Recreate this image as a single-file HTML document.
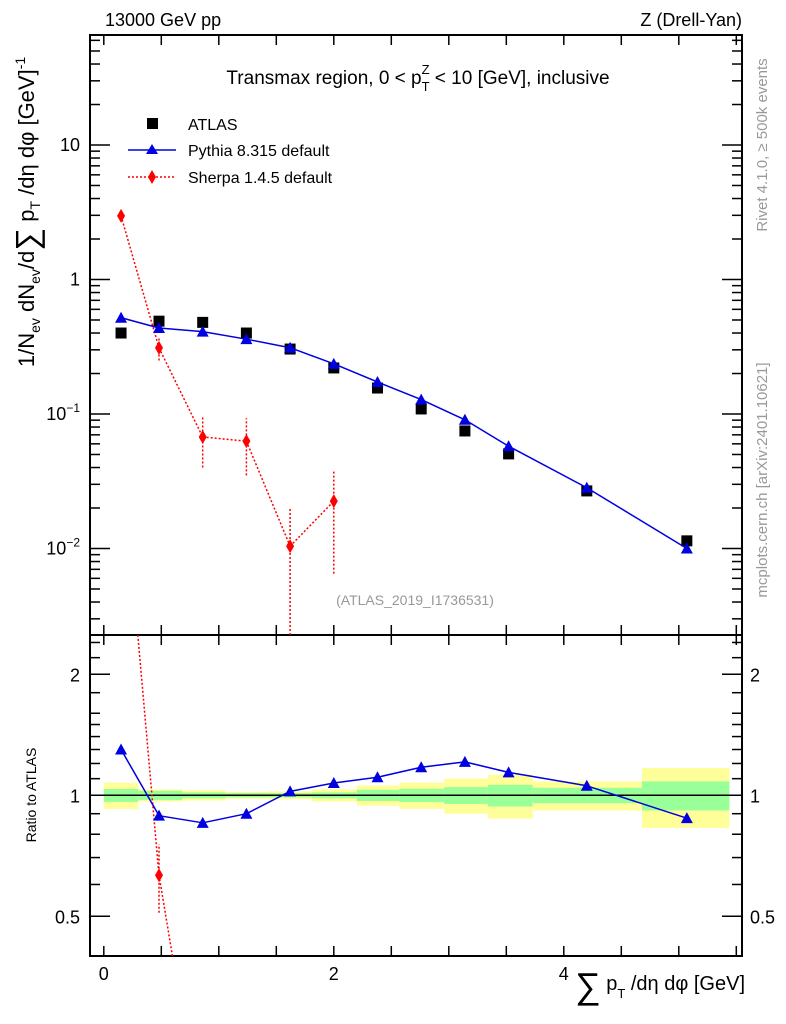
<!DOCTYPE html>
<html><head><meta charset="utf-8"><style>
html,body{margin:0;background:#fff;overflow:hidden;width:786px;height:1024px;}
svg{display:block;font-family:"Liberation Sans",sans-serif;overflow:hidden;}
</style></head><body>
<svg id="c" width="786" height="1024" viewBox="0 0 786 1024" xmlns="http://www.w3.org/2000/svg">
<defs>
<clipPath id="cpT"><rect x="90" y="35" width="652" height="600"/></clipPath>
<clipPath id="cpR"><rect x="90" y="635" width="652" height="321"/></clipPath>
</defs>
<g id="bands" clip-path="url(#cpR)"></g>
<g id="grid"></g>
<g id="marks"></g>
<text x="105" y="26" font-size="18">13000 GeV pp</text>
<text x="742" y="26" font-size="18" text-anchor="end">Z (Drell-Yan)</text>
<text x="418" y="84" font-size="19" text-anchor="middle">Transmax region, 0 &lt; p<tspan font-size="13" dy="7">T</tspan><tspan font-size="13" dx="-8" dy="-17">Z</tspan><tspan dy="10"> &lt; 10 [GeV], inclusive</tspan></text>
<g>
<rect x="147" y="118" width="11" height="11" fill="#000"/>
<text x="188" y="130" font-size="16">ATLAS</text>
<line x1="128" y1="150" x2="176" y2="150" stroke="#0000e0" stroke-width="1.5"/>
<polygon points="152,144 158,154 146,154" fill="#0000e0"/>
<text x="188" y="156" font-size="16">Pythia 8.315 default</text>
<line x1="128" y1="177" x2="176" y2="177" stroke="#f00" stroke-width="1.5" stroke-dasharray="2,2"/>
<polygon points="152,170 156,177 152,184 148,177" fill="#f00"/>
<text x="188" y="183" font-size="16">Sherpa 1.4.5 default</text>
</g>
<text x="415" y="605" font-size="14" fill="#999" text-anchor="middle">(ATLAS_2019_I1736531)</text>
<text transform="translate(767,145) rotate(-90)" font-size="15" fill="#999" text-anchor="middle">Rivet 4.1.0, ≥ 500k events</text>
<text transform="translate(767,480) rotate(-90)" font-size="15" fill="#999" text-anchor="middle">mcplots.cern.ch [arXiv:2401.10621]</text>
<text transform="translate(34,212) rotate(-90)" font-size="22" text-anchor="middle">1/N<tspan font-size="14" dy="6">ev</tspan><tspan dy="-6"> dN</tspan><tspan font-size="14" dy="6">ev</tspan><tspan dy="-6">/d</tspan><tspan font-size="32" dy="4">∑</tspan><tspan dy="-4"> p</tspan><tspan font-size="14" dy="6">T</tspan><tspan dy="-6"> /dη dφ  [GeV]</tspan><tspan font-size="14" dy="-9">-1</tspan></text>
<text transform="translate(36,795) rotate(-90)" font-size="14" text-anchor="middle">Ratio to ATLAS</text>
<text x="745" y="990" font-size="20" text-anchor="end"><tspan font-size="36" dy="8">∑</tspan><tspan dy="-8"> p</tspan><tspan font-size="13" dy="8">T</tspan><tspan dy="-8"> /dη dφ [GeV]</tspan></text>
</svg>
<script>
const xVals=[0.15,0.48,0.86,1.24,1.62,2.0,2.38,2.76,3.14,3.52,4.2,5.07];
const atlas=[0.40,0.49,0.48,0.40,0.304,0.22,0.156,0.109,0.0748,0.0505,0.0268,0.0114];
const pythia=[0.52,0.436,0.41,0.36,0.311,0.236,0.173,0.128,0.0906,0.0576,0.0283,0.0100];
const sherpaX=[0.15,0.48,0.86,1.24,1.62,2.0];
const sherpa=[2.97,0.31,0.0675,0.0628,0.0104,0.0225];
const sherpaLo=[2.97,0.25,0.040,0.035,0.0001,0.0065];
const sherpaHi=[2.97,0.37,0.095,0.093,0.020,0.038];
const binEdges=[0,0.3,0.68,1.06,1.43,1.81,2.2,2.57,2.96,3.34,3.73,4.68,5.44];
const statErr=[0.037,0.026,0.017,0.012,0.012,0.017,0.032,0.038,0.048,0.062,0.044,0.083];
const totErr=[0.075,0.035,0.03,0.02,0.023,0.035,0.058,0.075,0.1,0.125,0.083,0.17];
const xTicks=[0,2,4];
const yTicks=[10,1,0.1,0.01];
const yTickLabels=["10","1","10","10"];
const yTickExp=["","","−1","−2"];
const rTicks=[2,1,0.5];

const NS="http://www.w3.org/2000/svg";
const xS=v=>103.8+115*v;
const yT=v=>145+134.5*(1-Math.log10(v));
const yR=v=>795.3-121*Math.log2(v);
function mk(p,tag,at){const e=document.createElementNS(NS,tag);for(const k in at)e.setAttribute(k,at[k]);p.appendChild(e);return e;}
// clip a segment to y range [y0,y1]; returns null if fully outside
function clipSeg(ax,ay,bx,by,y0,y1){
 if((ay<y0&&by<y0)||(ay>y1&&by>y1))return null;
 function cl(px,py,qx,qy){if(py<y0){const t=(y0-py)/(qy-py);return [px+t*(qx-px),y0];}
  if(py>y1){const t=(y1-py)/(qy-py);return [px+t*(qx-px),y1];}return [px,py];}
 const a=cl(ax,ay,bx,by),b=cl(bx,by,ax,ay);return [a[0],a[1],b[0],b[1]];}
function drawLine(p,xs,ys,y0,y1,st,name){
 for(let i=0;i<xs.length-1;i++){const s=clipSeg(xs[i],ys[i],xs[i+1],ys[i+1],y0,y1);if(!s)continue;
  const e=mk(p,'line',Object.assign({x1:s[0],y1:s[1],x2:s[2],y2:s[3]},st));
  
  }}
const grid=document.getElementById('grid'),marks=document.getElementById('marks'),bands=document.getElementById('bands');

for(let i=0;i<binEdges.length-1;i++){
 const x1=xS(binEdges[i]),x2=xS(binEdges[i+1]);
 const y=mk(bands,'rect',{x:x1,y:yR(1+totErr[i]),width:x2-x1,height:yR(1-totErr[i])-yR(1+totErr[i]),fill:'#ffff99'});
 
 
 const g=mk(bands,'rect',{x:x1,y:yR(1+statErr[i]),width:x2-x1,height:yR(1-statErr[i])-yR(1+statErr[i]),fill:'#99ff99'});
 
 
}
mk(grid,'line',{x1:90,x2:742,y1:yR(1),y2:yR(1),stroke:'#000','stroke-width':1.5});

mk(grid,'rect',{x:90,y:35,width:652,height:600,fill:'none',stroke:'#000','stroke-width':2});
mk(grid,'rect',{x:90,y:635,width:652,height:321,fill:'none',stroke:'#000','stroke-width':2});
for(let v=0;v<=5.5;v+=0.5){const x=xS(v);
 for(const [b,t] of [[635,625],[35,45],[956,946],[635,645]]) mk(grid,'line',{x1:x,x2:x,y1:b,y2:t,stroke:'#000','stroke-width':1.5});}
xTicks.forEach(v=>{const t=mk(grid,'text',{x:xS(v),y:980,'font-size':18,'text-anchor':'middle'});t.textContent=v;
 
 });
for(let d=-3;d<=1;d++)for(let m=1;m<=9;m++){const v=m*Math.pow(10,d);const y=yT(v);if(y<36||y>634)continue;
 const L=m==1?20:10;mk(grid,'line',{x1:90,x2:90+L,y1:y,y2:y,stroke:'#000','stroke-width':1.5});mk(grid,'line',{x1:742,x2:742-L,y1:y,y2:y,stroke:'#000','stroke-width':1.5});}
yTicks.forEach((v,i)=>{const t=mk(grid,'text',{x:80,y:yT(v)+6,'font-size':18,'text-anchor':'end'});t.textContent=yTickLabels[i];
 if(yTickExp[i]){const s=mk(t,'tspan',{'font-size':12,dy:-8});s.textContent=yTickExp[i];}
 
 });
[0.4,0.5,0.6,0.7,0.8,0.9,1,1.1,1.2,1.3,1.4,1.5,1.6,1.8,2,2.2,2.4].forEach(v=>{const y=yR(v);if(y<636||y>955)return;const L=(v==0.5||v==1||v==2)?20:10;
 mk(grid,'line',{x1:90,x2:90+L,y1:y,y2:y,stroke:'#000','stroke-width':1.5});mk(grid,'line',{x1:742,x2:742-L,y1:y,y2:y,stroke:'#000','stroke-width':1.5});});
rTicks.forEach(v=>{for(const [x,a] of [[80,'end'],[750,'start']]){const t=mk(grid,'text',{x:x,y:yR(v)+7,'font-size':18,'text-anchor':a});t.textContent=v;
 
 }});

const gT=mk(marks,'g',{'clip-path':'url(#cpT)'});
const gR=mk(marks,'g',{'clip-path':'url(#cpR)'});
const TY0=35,TY1=635,RY0=635,RY1=956;
function tri(p,x,y,c,name){const e=mk(p,'polygon',{points:`${x},${y-6} ${x+6},${y+5} ${x-6},${y+5}`,fill:c});}
function dia(p,x,y,name){if(y<RY0-10&&p===gR)return;if(y>RY1+10)return;const e=mk(p,'polygon',{points:`${x},${y-7} ${x+4},${y} ${x},${y+7} ${x-4},${y}`,fill:'#f00'});}
const redSt={stroke:'#f00','stroke-width':1.5,'stroke-dasharray':'2,2'};
const blueSt={stroke:'#0000e0','stroke-width':1.5};

// top panel
drawLine(gT,sherpaX.map(xS),sherpa.map(yT),TY0,TY1,redSt,'sherpa-line');
sherpaX.forEach((x,i)=>{drawLine(gT,[xS(x),xS(x)],[yT(sherpaLo[i]),yT(sherpaHi[i])],TY0,TY1,redSt,'sherpa-error-bar');dia(gT,xS(x),yT(sherpa[i]),'sherpa-point');});
xVals.forEach((x,i)=>{const e=mk(gT,'rect',{x:xS(x)-5.5,y:yT(atlas[i])-5.5,width:11,height:11,fill:'#000'});});
drawLine(gT,xVals.map(xS),pythia.map(yT),TY0,TY1,blueSt,'pythia-line');
xVals.forEach((x,i)=>tri(gT,xS(x),yT(pythia[i]),'#0000e0','pythia-point'));

// ratio panel
drawLine(gR,sherpaX.map(xS),sherpa.map((v,i)=>yR(v/atlas[i])),RY0,RY1,redSt,'sherpa-ratio-line');
sherpaX.forEach((x,i)=>{drawLine(gR,[xS(x),xS(x)],[yR(sherpaLo[i]/atlas[i]),yR(sherpaHi[i]/atlas[i])],RY0,RY1,redSt,'sherpa-ratio-error-bar');dia(gR,xS(x),yR(sherpa[i]/atlas[i]),'sherpa-ratio-point');});
drawLine(gR,xVals.map(xS),pythia.map((v,i)=>yR(v/atlas[i])),RY0,RY1,blueSt,'pythia-ratio-line');
xVals.forEach((x,i)=>tri(gR,xS(x),yR(pythia[i]/atlas[i]),'#0000e0','pythia-ratio-point'));
</script>
</body></html>
